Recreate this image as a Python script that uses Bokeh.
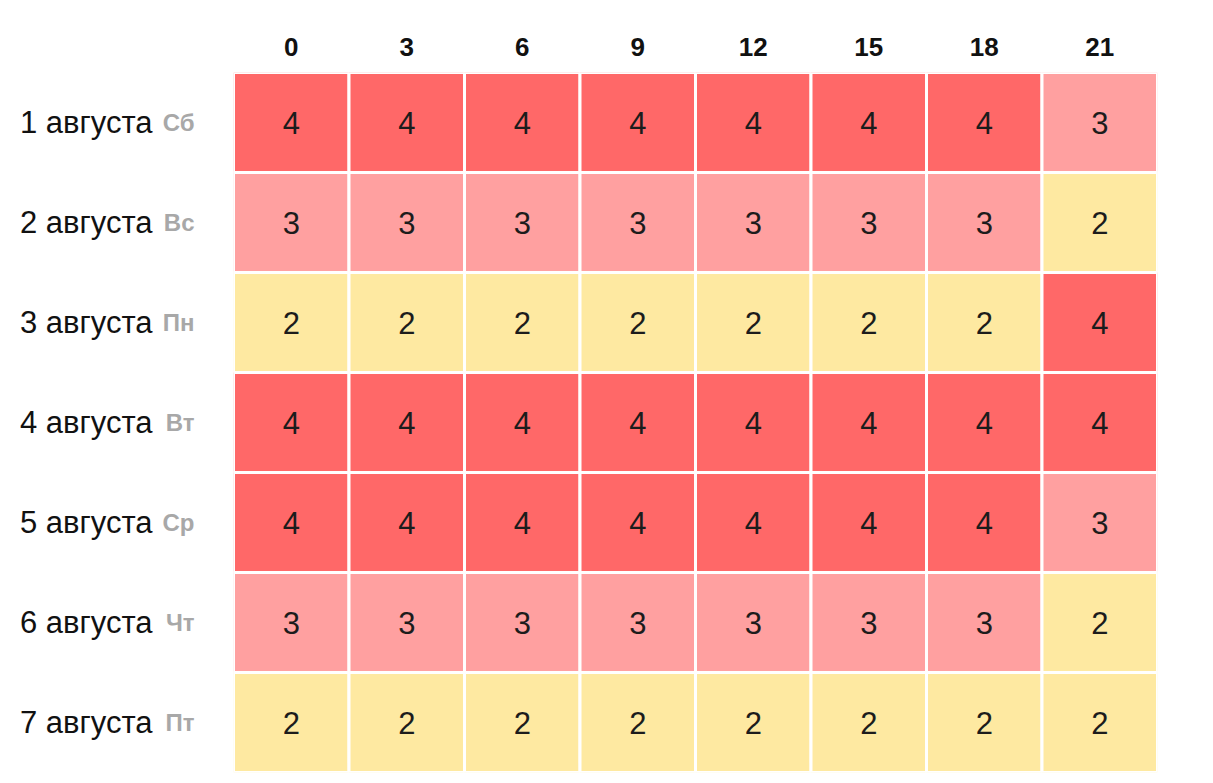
from bokeh.plotting import figure
from bokeh.models import FactorRange, CategoricalAxis, ColumnDataSource, LinearColorMapper
from bokeh.core.properties import value
from bokeh.embed import file_html
from bokeh.resources import INLINE

hours = ["0", "3", "6", "9", "12", "15", "18", "21"]
dates = ["1 августа", "2 августа", "3 августа", "4 августа",
         "5 августа", "6 августа", "7 августа"]
weekdays = ["Сб", "Вс", "Пн", "Вт", "Ср", "Чт", "Пт"]
levels = [
    [4, 4, 4, 4, 4, 4, 4, 3],
    [3, 3, 3, 3, 3, 3, 3, 2],
    [2, 2, 2, 2, 2, 2, 2, 4],
    [4, 4, 4, 4, 4, 4, 4, 4],
    [4, 4, 4, 4, 4, 4, 4, 3],
    [3, 3, 3, 3, 3, 3, 3, 2],
    [2, 2, 2, 2, 2, 2, 2, 2],
]
palette = ["#FEE9A1", "#FFA0A0", "#FF6868"]

xs, ys, vs, ts = [], [], [], []
for d, row in zip(dates, levels):
    for h, v in zip(hours, row):
        xs.append(h)
        ys.append(d)
        vs.append(v)
        ts.append(str(v))
src = ColumnDataSource(dict(x=xs, y=ys, v=vs, t=ts))

FONT = "Liberation Sans"
W, H = 1204, 774
p = figure(width=W, height=H, output_backend="svg", toolbar_location=None,
           x_range=FactorRange(*hours), y_range=FactorRange(*reversed(dates)),
           x_axis_location="above", y_axis_location=None,
           min_border=0, min_border_left=233, min_border_right=47,
           min_border_top=72, min_border_bottom=2)
p.extra_y_ranges = {"wd": FactorRange(*reversed(weekdays))}
p.outline_line_color = None
p.xgrid.grid_line_color = None
p.ygrid.grid_line_color = None
p.background_fill_color = "white"
p.border_fill_color = "white"

mapper = LinearColorMapper(palette=palette, low=2, high=4)
p.rect(x="x", y="y", width=1, height=1, source=src,
       fill_color={"field": "v", "transform": mapper},
       line_color="white", line_width=3)
p.text(x="x", y="y", text="t", source=src, text_align="center",
       text_baseline="middle", text_font=value(FONT),
       text_font_size="31px", text_color="#1c1c1c")

xa = p.xaxis[0]
xa.axis_line_color = None
xa.major_tick_line_color = None
xa.major_tick_out = 0
xa.major_tick_in = 0
xa.major_label_standoff = 17
xa.major_label_text_font = FONT
xa.major_label_text_font_size = "26px"
xa.major_label_text_font_style = "bold"
xa.major_label_text_color = "#111111"

wd_axis = CategoricalAxis(y_range_name="wd")
date_axis = CategoricalAxis()
for ax in (wd_axis, date_axis):
    ax.axis_line_color = None
    ax.major_tick_line_color = None
    ax.major_tick_out = 0
    ax.major_tick_in = 0
    ax.major_label_text_font = FONT
wd_axis.major_label_standoff = 39
wd_axis.major_label_text_font_size = "24px"
wd_axis.major_label_text_font_style = "bold"
wd_axis.major_label_text_color = "#a8a8a8"
date_axis.major_label_standoff = 7
date_axis.major_label_text_font_size = "31px"
date_axis.major_label_text_color = "#111111"
p.add_layout(wd_axis, "left")
p.add_layout(date_axis, "left")

open("out.html", "w").write(file_html(p, INLINE))
